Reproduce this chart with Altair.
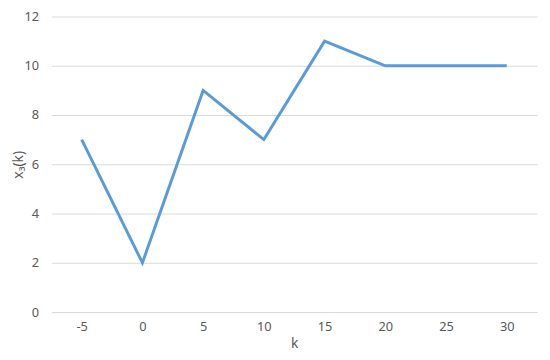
import altair as alt
import pandas as pd

k_vals = [-5, 0, 5, 10, 15, 20, 25, 30]
x3_vals = [7, 2, 9, 7, 11, 10, 10, 10]

df = pd.DataFrame({"k": k_vals, "x3": x3_vals})

font = "Noto Sans"
chart = alt.Chart(df).mark_line(color="#5B9BD5", strokeWidth=3).encode(
    x=alt.X("k:O", sort=k_vals,
            scale=alt.Scale(type="point", padding=0.5),
            axis=alt.Axis(title="k", labelAngle=0, grid=False, ticks=False,
                          domain=False, labelPadding=9, titlePadding=3,
                          labelColor="#595959", titleColor="#595959",
                          labelFontSize=13, titleFontSize=14, titleFontWeight="normal",
                          labelFont=font, titleFont=font)),
    y=alt.Y("x3:Q", scale=alt.Scale(domain=[0, 12]),
            axis=alt.Axis(title="x₃(k)", values=[0, 2, 4, 6, 8, 10, 12], grid=True,
                          gridColor="#D9D9D9", ticks=False, domain=False,
                          labelPadding=13, titleX=-33, titleBaseline="middle",
                          labelColor="#595959", titleColor="#595959",
                          labelFontSize=13, titleFontSize=14, titleFontWeight="normal",
                          labelFont=font, titleFont=font)),
).properties(
    width=493, height=300,
    autosize=alt.AutoSizeParams(type="none"),
    padding={"left": 44, "top": 6, "right": 5, "bottom": 44},
).configure_view(stroke=None)

chart.save("out.html", embed_options={"renderer": "svg", "actions": False})
